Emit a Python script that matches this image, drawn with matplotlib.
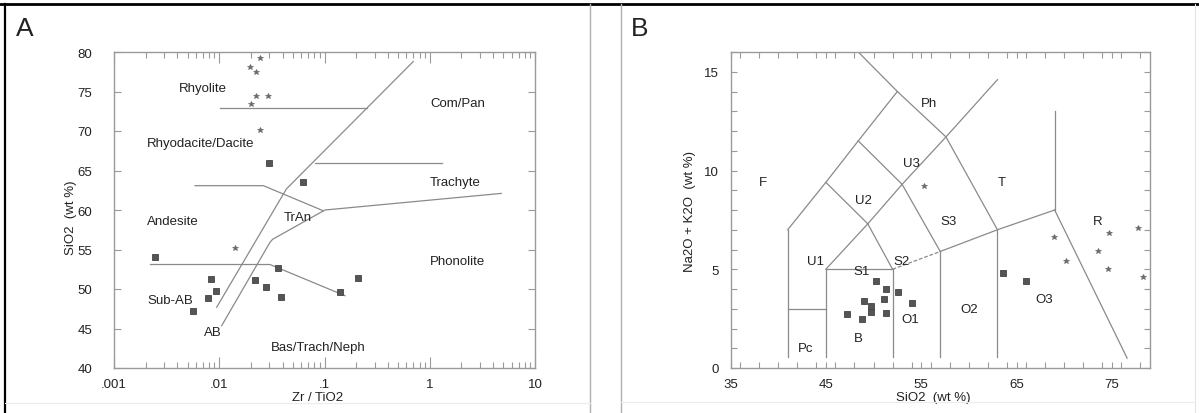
import matplotlib
matplotlib.use("Agg")
import matplotlib.pyplot as plt
from matplotlib.lines import Line2D
from matplotlib.ticker import LogLocator, NullFormatter, MultipleLocator, FixedLocator

plt.rcParams['font.family'] = ['Liberation Sans', 'DejaVu Sans']

W, H = 1199, 414

# ---------------- Panel A data (Zr/TiO2 vs SiO2) ----------------
a_mafic_x = [0.0299, 0.0629, 0.00245, 0.00836, 0.00925, 0.00788, 0.00566,
             0.0219, 0.0278, 0.0359, 0.0386, 0.140, 0.2065]
a_mafic_y = [65.9, 63.5, 54.0, 51.27, 49.7, 48.8, 47.25,
             51.14, 50.3, 52.6, 48.95, 49.66, 51.35]
a_felsic_x = [0.0244, 0.0196, 0.0223, 0.0223, 0.0288, 0.0200, 0.0244, 0.0141]
a_felsic_y = [79.2, 78.06, 77.5, 74.47, 74.47, 73.4, 70.1, 55.15]

a_line1_x = [0.00946, 0.0434, 0.698]
a_line1_y = [47.7, 62.66, 78.8]
a_line2_x = [0.01054, 0.0303, 0.0322, 0.101, 4.78]
a_line2_y = [45.35, 55.9, 56.3, 60.0, 62.1]
a_line3_x = [0.00589, 0.02625, 0.0975]
a_line3_y = [63.08, 63.08, 59.9]
a_line4_x = [0.0813, 1.31]
a_line4_y = [65.9, 65.9]
a_line5_x = [0.0102, 0.252]
a_line5_y = [72.9, 72.9]
a_line6_x = [0.00222, 0.0303, 0.1567]
a_line6_y = [53.1, 53.1, 49.15]

a_labels = ["Rhyolite", "Com/Pan", "Rhyodacite/Dacite", "Trachyte", "TrAn",
            "Andesite", "Phonolite", "Sub-AB", "AB", "Bas/Trach/Neph"]
a_label_x = [0.00701, 1.85, 0.00671, 1.75, 0.0552, 0.00364, 1.83, 0.00343, 0.00867, 0.0873]
a_label_y = [75.4, 73.5, 68.5, 63.6, 59.07, 58.6, 53.6, 48.6, 44.6, 42.7]

a_xticks = [0.001, 0.01, 0.1, 1, 10]
a_xticklabels = [".001", ".01", ".1", "1", "10"]
a_yticks = [40, 45, 50, 55, 60, 65, 70, 75, 80]

# ---------------- Panel B data (TAS) ----------------
b_mafic_x = [50.25, 51.30, 52.56, 51.12, 48.95, 54.03, 49.76, 49.76, 47.27, 51.30, 48.78, 63.59, 66.04]
b_mafic_y = [4.42, 4.0, 3.84, 3.50, 3.38, 3.30, 3.12, 2.85, 2.71, 2.78, 2.49, 4.81, 4.43]
b_felsic_x = [55.3, 68.91, 70.21, 74.69, 73.53, 74.62, 77.77, 78.26]
b_felsic_y = [9.2, 6.62, 5.40, 6.83, 5.94, 5.02, 7.07, 4.60]

tas_lines = [
    ([41, 41], [0.55, 7]),
    ([41, 45], [3, 3]),
    ([45, 45], [0.55, 5]),
    ([45, 52], [5, 5]),
    ([52, 52], [0.55, 5]),
    ([57, 57], [0.55, 5.9]),
    ([63, 63], [0.55, 7]),
    ([57, 63, 69], [5.9, 7, 8]),
    ([69, 69], [8, 13]),
    ([69, 76.6], [8, 0.5]),
    ([41, 45, 48.4, 52.5], [7, 9.4, 11.5, 14]),
    ([48.4, 52.5, 57.6, 63], [16, 14, 11.7, 7]),
    ([45, 49.4, 53, 57.6, 63], [5, 7.3, 9.3, 11.7, 14.6]),
    ([45, 49.4], [9.4, 7.3]),
    ([48.4, 53], [11.5, 9.3]),
    ([49.4, 52], [7.3, 5]),
    ([53, 57], [9.3, 5.9]),
]
tas_dashed_x = [52, 57]
tas_dashed_y = [5, 5.9]

b_labels = ["F", "Ph", "U3", "T", "U2", "S3", "R", "U1", "S1", "S2", "O1", "O2", "O3", "B", "Pc"]
b_label_x = [38.4, 55.8, 54.0, 63.5, 48.9, 57.9, 73.5, 43.9, 48.78, 52.9, 53.9, 60.0, 67.9, 48.4, 42.9]
b_label_y = [9.43, 13.4, 10.4, 9.4, 8.5, 7.46, 7.45, 5.43, 4.93, 5.43, 2.49, 3.0, 3.5, 1.5, 1.03]

b_xticks = [35, 45, 55, 65, 75]
b_yticks = [0, 5, 10, 15]

# ---------------- styling ----------------
LINE_C = '#8a8a8a'
SPINE_C = '#9a9a9a'
TEXT_C = '#222222'
SQ_C = '#555555'
PT_C = '#6a6a6a'
FS_TICK = 9.5
FS_LAB = 9.5
FS_REG = 9.5

fig = plt.figure(figsize=(W / 100, H / 100), dpi=100)
fig.patch.set_facecolor('white')


def fx(px):
    return px / W


def fy(py):
    return 1 - py / H


axA = fig.add_axes([fx(114), fy(369), fx(535) - fx(114), fy(53) - fy(369)])
axB = fig.add_axes([fx(730.5), fy(369), fx(1150) - fx(730.5), fy(53) - fy(369)])

for ax in (axA, axB):
    for s in ax.spines.values():
        s.set_color(SPINE_C)
        s.set_linewidth(1.0)

# Panel A
axA.set_xscale('log')
axA.set_xlim(0.001, 10)
axA.set_ylim(40, 80)
for lx, ly in [(a_line1_x, a_line1_y), (a_line2_x, a_line2_y), (a_line3_x, a_line3_y),
               (a_line4_x, a_line4_y), (a_line5_x, a_line5_y), (a_line6_x, a_line6_y)]:
    axA.plot(lx, ly, color=LINE_C, lw=0.9)
axA.plot(a_mafic_x, a_mafic_y, ls='none', marker='s', ms=3.8, color=SQ_C, mec='#444444', mew=0.6)
axA.plot(a_felsic_x, a_felsic_y, ls='none', marker='*', ms=4, color=PT_C, mec=PT_C, mew=0.5)
for t, x, y in zip(a_labels, a_label_x, a_label_y):
    axA.text(x, y, t, ha='center', va='center', fontsize=FS_REG, color=TEXT_C)

axA.xaxis.set_major_locator(FixedLocator(a_xticks))
axA.set_xticklabels(a_xticklabels)
axA.xaxis.set_minor_locator(LogLocator(base=10, subs=range(2, 10)))
axA.xaxis.set_minor_formatter(NullFormatter())
axA.set_yticks(a_yticks)
axA.tick_params(axis='x', which='major', direction='in', top=True, bottom=True,
                length=8, width=0.8, color=SPINE_C, labelsize=FS_TICK, labelcolor=TEXT_C, pad=7)
axA.tick_params(axis='x', which='minor', direction='in', top=True, bottom=True,
                length=4.5, width=0.8, color=SPINE_C)
axA.tick_params(axis='y', which='major', direction='in', left=True, right=True,
                length=5, width=0.8, color=SPINE_C, labelsize=FS_TICK, labelcolor=TEXT_C, pad=15.5)
axA.set_xlabel('Zr / TiO2', fontsize=FS_LAB, color=TEXT_C)
axA.set_ylabel('SiO2  (wt %)', fontsize=FS_LAB, color=TEXT_C)
axA.xaxis.set_label_coords(0.4836, -0.092)
axA.xaxis.label.set_va('center')
axA.yaxis.set_label_coords(-0.102, 0.478)
axA.yaxis.label.set_va('center')

# Panel B
axB.set_xlim(35, 79)
axB.set_ylim(0, 16)
for lx, ly in tas_lines:
    axB.plot(lx, ly, color=LINE_C, lw=0.9)
axB.plot(tas_dashed_x, tas_dashed_y, color=LINE_C, lw=0.9, ls=(0, (3, 1.5)))
axB.plot(b_mafic_x, b_mafic_y, ls='none', marker='s', ms=3.8, color=SQ_C, mec='#444444', mew=0.6)
axB.plot(b_felsic_x, b_felsic_y, ls='none', marker='*', ms=4, color=PT_C, mec=PT_C, mew=0.5)
for t, x, y in zip(b_labels, b_label_x, b_label_y):
    axB.text(x, y, t, ha='center', va='center', fontsize=FS_REG, color=TEXT_C)

axB.set_xticks(b_xticks)
axB.xaxis.set_minor_locator(MultipleLocator(2))
axB.set_yticks(b_yticks)
axB.yaxis.set_minor_locator(MultipleLocator(1))
axB.tick_params(axis='both', which='both', direction='in', top=True, bottom=True, left=True, right=True,
                length=4, width=0.8, color=SPINE_C)
axB.tick_params(axis='x', which='major', labelsize=FS_TICK, labelcolor=TEXT_C, pad=7)
axB.tick_params(axis='y', which='major', labelsize=FS_TICK, labelcolor=TEXT_C, pad=8.5)
axB.set_xlabel('SiO2  (wt %)', fontsize=FS_LAB, color=TEXT_C)
axB.set_ylabel('Na2O + K2O  (wt %)', fontsize=FS_LAB, color=TEXT_C)
axB.xaxis.set_label_coords(0.483, -0.092)
axB.xaxis.label.set_va('center')
axB.yaxis.set_label_coords(-0.0965, 0.5)
axB.yaxis.label.set_va('center')

# Panel letters
fig.text(fx(16), fy(35.5), 'A', fontsize=19, color='#222222', ha='left', va='baseline')
fig.text(fx(631), fy(35.5), 'B', fontsize=19, color='#222222', ha='left', va='baseline')

# Frame lines
fig.add_artist(Line2D([0, 1], [fy(5), fy(5)], transform=fig.transFigure, color='black', lw=2.0))
fig.add_artist(Line2D([fx(5), fx(5)], [fy(5), 0], transform=fig.transFigure, color='black', lw=1.6))
fig.add_artist(Line2D([fx(590), fx(590)], [fy(5), 0], transform=fig.transFigure, color='#b0b0b0', lw=1.0))
fig.add_artist(Line2D([fx(621), fx(621)], [fy(5), 0], transform=fig.transFigure, color='#b0b0b0', lw=1.0))
fig.add_artist(Line2D([fx(1195), fx(1195)], [fy(5), 0], transform=fig.transFigure, color='#e4e4e4', lw=0.8))
fig.add_artist(Line2D([fx(5), fx(590)], [fy(404), fy(404)], transform=fig.transFigure, color='#ececec', lw=0.8))
fig.add_artist(Line2D([fx(621), fx(1195)], [fy(403), fy(403)], transform=fig.transFigure, color='#ececec', lw=0.8))

fig.savefig('out.png', dpi=100, facecolor='white')
